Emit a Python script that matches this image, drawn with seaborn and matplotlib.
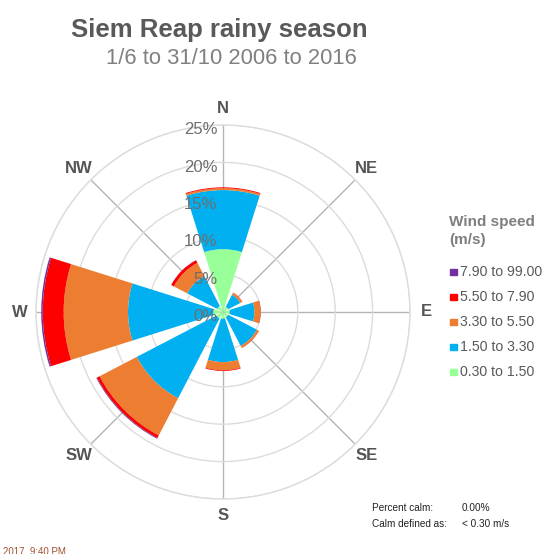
import numpy as np
import pandas as pd
import matplotlib
matplotlib.use('Agg')
import matplotlib.pyplot as plt
from matplotlib.patches import Rectangle
import seaborn as sns

# --- dados (% do tempo por direção e faixa de velocidade) ---
directions = ['N', 'NE', 'E', 'SE', 'S', 'SW', 'W', 'NW']
angles_deg = [0, 45, 90, 135, 180, 225, 270, 315]
speed_bins = ['0.30 to 1.50', '1.50 to 3.30', '3.30 to 5.50', '5.50 to 7.90', '7.90 to 99.00']
pct_030_150 = [8.4, 0.8, 0.9, 0.8, 0.9, 1.0, 1.3, 0.9]
pct_150_330 = [7.9, 1.8, 3.3, 4.3, 5.8, 12.0, 11.4, 4.5]
pct_330_550 = [0.25, 0.3, 0.8, 0.3, 1.1, 5.6, 8.6, 2.0]
pct_550_790 = [0.12, 0.03, 0.05, 0.03, 0.1, 0.4, 2.8, 0.4]
pct_790_up = [0.0, 0.0, 0.0, 0.0, 0.0, 0.1, 0.2, 0.02]
r_ticks = [0, 5, 10, 15, 20, 25]

bin_colors = ['#99FF99', '#00B0F0', '#ED7D31', '#FF0000', '#7030A0']

df = pd.DataFrame({
    '0.30 to 1.50': pct_030_150,
    '1.50 to 3.30': pct_150_330,
    '3.30 to 5.50': pct_330_550,
    '5.50 to 7.90': pct_550_790,
    '7.90 to 99.00': pct_790_up,
}, index=directions)
bottoms = df.cumsum(axis=1) - df

sns.set_style('white')
plt.rcParams['font.family'] = ['Liberation Sans', 'DejaVu Sans']

W, H = 549, 554
fig = plt.figure(figsize=(W / 100, H / 100), dpi=100)


def fx(x):
    return x / W


def fy(y):
    return 1 - y / H


# eixo polar: centro (223, 312), raio de 25% = 187 px
cx, cy, R = 223, 312, 187
ax = fig.add_axes([fx(cx - R), fy(cy + R), 2 * R / W, 2 * R / H], projection='polar')
ax.set_theta_zero_location('N')
ax.set_theta_direction(-1)
ax.set_ylim(0, 25)
ax.set_axisbelow(True)

theta = np.deg2rad(angles_deg)
width = np.deg2rad(35)
for b, col in zip(speed_bins, bin_colors):
    ax.bar(theta, df[b].values, width=width, bottom=bottoms[b].values,
           color=col, edgecolor='none', linewidth=0, zorder=3)

# grade
ax.set_yticks(r_ticks)
ax.set_yticklabels([])
ax.set_xticks(theta)
ax.set_xticklabels([])
ax.yaxis.grid(True, color='#dcdcdc', linewidth=1.0)
ax.xaxis.grid(True, color='#b4b4b4', linewidth=1.0)
ax.spines['polar'].set_color('#dcdcdc')
ax.spines['polar'].set_linewidth(1.0)

for r in r_ticks:
    ax.annotate(f'{r}%', xy=(0, r), xytext=(-4, 2), textcoords='offset points',
                ha='right', va='top', fontsize=12, color='#6e6e6e', zorder=6)

for d, a in zip(directions, theta):
    ax.text(a, 27.2, d, ha='center', va='center', fontsize=12,
            fontweight='bold', color='#555555')

# títulos
fig.text(fx(219), fy(30), 'Siem Reap rainy season', ha='center', va='center',
         fontsize=18.5, fontweight='bold', color='#595959')
fig.text(fx(231), fy(58), '1/6 to 31/10 2006 to 2016', ha='center', va='center',
         fontsize=15.8, color='#808080')

# legenda manual
fig.text(fx(449), fy(222), 'Wind speed', ha='left', va='center',
         fontsize=11, fontweight='bold', color='#7f7f7f')
fig.text(fx(449), fy(240), '(m/s)', ha='left', va='center',
         fontsize=11, fontweight='bold', color='#7f7f7f')
leg_y = [272, 297, 322, 347, 372]
for y, b, col in zip(leg_y, speed_bins[::-1], bin_colors[::-1]):
    fig.add_artist(Rectangle((fx(450), fy(y + 3.3)), 6.7 / W, 6.7 / H,
                             transform=fig.transFigure, color=col))
    fig.text(fx(459.5), fy(y), b, ha='left', va='center', fontsize=10.2, color='#595959')

# calmaria
fig.text(fx(372), fy(508), 'Percent calm:', ha='left', va='center', fontsize=7.2, color='#222222')
fig.text(fx(462), fy(508), '0.00%', ha='left', va='center', fontsize=7.2, color='#222222')
fig.text(fx(372), fy(524), 'Calm defined as:', ha='left', va='center', fontsize=7.2, color='#222222')
fig.text(fx(462), fy(524), '< 0.30 m/s', ha='left', va='center', fontsize=7.2, color='#222222')

fig.text(fx(3), fy(551), '2017, 9:40 PM', ha='left', va='center', fontsize=7,
         color='#a0522d')

fig.savefig('out.png', dpi=100)
